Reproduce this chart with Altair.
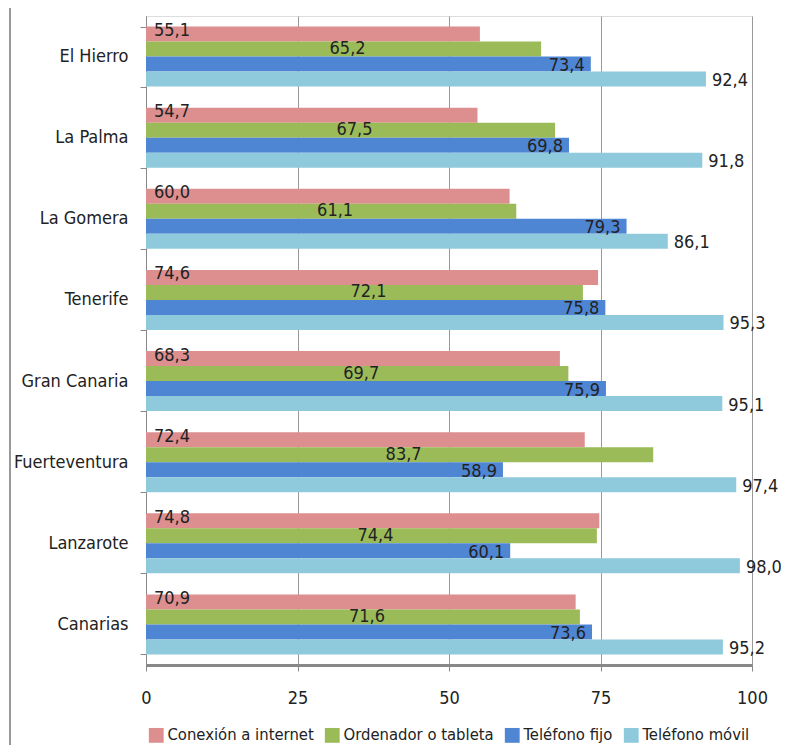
import altair as alt
import pandas as pd

islands = ["El Hierro", "La Palma", "La Gomera", "Tenerife", "Gran Canaria",
           "Fuerteventura", "Lanzarote", "Canarias"]
series = ["Conexión a internet", "Ordenador o tableta", "Teléfono fijo", "Teléfono móvil"]
internet = [55.1, 54.7, 60.0, 74.6, 68.3, 72.4, 74.8, 70.9]
ordenador = [65.2, 67.5, 61.1, 72.1, 69.7, 83.7, 74.4, 71.6]
fijo = [73.4, 69.8, 79.3, 75.8, 75.9, 58.9, 60.1, 73.6]
movil = [92.4, 91.8, 86.1, 95.3, 95.1, 97.4, 98.0, 95.2]
colors = ["#DD8E8E", "#9BBB59", "#4F86D4", "#8FCADC"]

rows = []
for s, vals in zip(series, [internet, ordenador, fijo, movil]):
    for isl, v in zip(islands, vals):
        rows.append({"isla": isl, "serie": s, "valor": v,
                     "etiqueta": f"{v:.1f}".replace(".", ",")})
df = pd.DataFrame(rows)

FONT = "DejaVu Sans Condensed, Liberation Sans Narrow, Liberation Sans, sans-serif"
FS = 18

y_enc = alt.Y("isla:N", sort=islands, title=None,
              scale=alt.Scale(paddingInner=0.26, paddingOuter=0.13),
              axis=alt.Axis(labelFontSize=FS, labelFont=FONT, labelColor="#222",
                            domainColor="#888", tickColor="#888", tickBand="extent",
                            tickSize=6, labelPadding=12, grid=False))
yoff = alt.YOffset("serie:N", sort=series)
x_scale = alt.Scale(domain=[0, 100], nice=False)

base = alt.Chart(df)

bars = base.mark_bar().encode(
    x=alt.X("valor:Q", scale=x_scale, title=None,
            axis=alt.Axis(values=[0, 25, 50, 75, 100], labelFontSize=FS, labelFont=FONT,
                          labelColor="#222", domainColor="#888", domainWidth=3,
                          tickColor="#888", tickSize=6, labelPadding=18, labelFlush=False,
                          grid=True, gridColor="#999", gridWidth=1)),
    y=y_enc,
    yOffset=yoff,
    color=alt.Color("serie:N", sort=series,
                    scale=alt.Scale(domain=series, range=colors),
                    legend=alt.Legend(title=None, orient="none", legendX=2, legendY=711,
                                      direction="horizontal", symbolType="square",
                                      symbolSize=220, labelFontSize=16.5, labelFont=FONT,
                                      labelColor="#222", columnPadding=10,
                                      symbolStrokeWidth=0, labelOffset=3)),
)

txt_style = dict(fontSize=FS, font=FONT, color="#222", baseline="middle")

t1 = base.transform_filter(alt.datum.serie == series[0]).mark_text(
    align="left", dx=8, dy=-3, **txt_style).encode(
    x=alt.datum(0, scale=x_scale), y=y_enc, yOffset=yoff, text="etiqueta:N")

t2 = base.transform_filter(alt.datum.serie == series[1]).transform_calculate(
    mid="datum.valor / 2").mark_text(align="center", dx=4, **txt_style).encode(
    x=alt.X("mid:Q", scale=x_scale), y=y_enc, yOffset=yoff, text="etiqueta:N")

t3 = base.transform_filter(alt.datum.serie == series[2]).mark_text(
    align="right", dx=-6, dy=2, **txt_style).encode(
    x=alt.X("valor:Q", scale=x_scale), y=y_enc, yOffset=yoff, text="etiqueta:N")

t4 = base.transform_filter(alt.datum.serie == series[3]).mark_text(
    align="left", dx=6, dy=2, **txt_style).encode(
    x=alt.X("valor:Q", scale=x_scale), y=y_enc, yOffset=yoff, text="etiqueta:N")

frame = alt.Chart(pd.DataFrame({"k": [0]})).mark_rule(color="#999", strokeWidth=2).encode(
    x=alt.value(-136), y=alt.value(-8), y2=alt.value(729))

chart = alt.layer(bars, t1, t2, t3, t4, frame).properties(
    width=606, height=649,
    autosize=alt.AutoSizeParams(type="none"),
    padding={"left": 138, "top": 8, "right": 29, "bottom": 80},
).configure_view(stroke=None).configure(background="white")

chart.save("out.html", embed_options={"renderer": "svg", "actions": False})
